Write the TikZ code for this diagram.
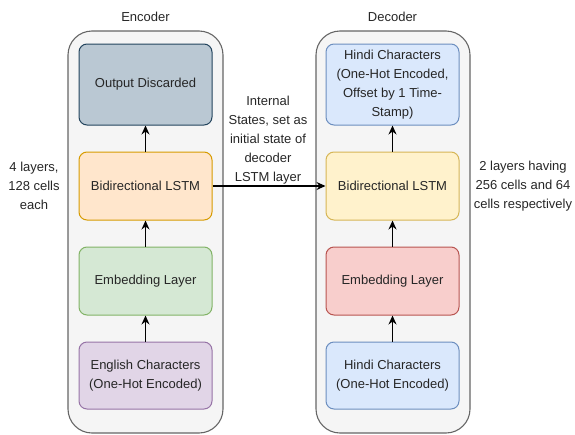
\documentclass[tikz,border=0pt]{standalone}
\usepackage{fontspec}
\setmainfont{Liberation Sans}
\usetikzlibrary{arrows.meta}

\definecolor{boxgray}{HTML}{F5F5F5}
\definecolor{linegray}{HTML}{666666}
\definecolor{outfill}{HTML}{BAC8D3}
\definecolor{outline}{HTML}{23445D}
\definecolor{orfill}{HTML}{FFE6CC}
\definecolor{orline}{HTML}{D79B00}
\definecolor{grfill}{HTML}{D5E8D4}
\definecolor{grline}{HTML}{82B366}
\definecolor{pufill}{HTML}{E1D5E7}
\definecolor{puline}{HTML}{9673A6}
\definecolor{blfill}{HTML}{DAE8FC}
\definecolor{blline}{HTML}{6C8EBF}
\definecolor{yefill}{HTML}{FFF2CC}
\definecolor{yeline}{HTML}{D6B656}
\definecolor{refill}{HTML}{F8CECC}
\definecolor{reline}{HTML}{B85450}

\tikzset{
	layer/.style={draw, line width=1, rounded corners=8, minimum width=133, align=center,
		inner sep=0pt, text=black!85},
	stack/.style={draw=linegray, fill=boxgray, line width=1.1, rounded corners=24},
	note/.style={align=center, inner sep=0pt, text=black!85},
	flow/.style={-{Stealth[length=9pt,width=8pt,inset=3pt]}, line width=1.3}
}

\begin{document}
\begin{tikzpicture}[x=1pt,y=-1pt,font=\fontsize{13}{19}\selectfont]
	\useasboundingbox (0,0) rectangle (575,434);

	% containers
	\draw[stack] (68,31) rectangle (223,433);
	\draw[stack] (316,31) rectangle (470,433);
	\node[note] (enclabel) at (145.5,17) {Encoder};
	\node[note] (declabel) at (392.5,17) {Decoder};

	% encoder
	\node[layer, fill=outfill, draw=outline, minimum height=81] (encout) at (145.5,84.5) {Output Discarded};
	\node[layer, fill=orfill, draw=orline, minimum height=68] (enclstm) at (145.5,186) {Bidirectional LSTM};
	\node[layer, fill=grfill, draw=grline, minimum height=68] (encemb) at (145.5,281) {Embedding Layer};
	\node[layer, fill=pufill, draw=puline, minimum height=67] (encin) at (145.5,375.5) {English Characters\\(One-Hot Encoded)};

	% decoder
	\node[layer, fill=blfill, draw=blline, minimum height=81] (decout) at (392.5,84.5) {Hindi Characters\\(One-Hot Encoded,\\Offset by 1 Time-\\Stamp)};
	\node[layer, fill=yefill, draw=yeline, minimum height=68] (declstm) at (392.5,186) {Bidirectional LSTM};
	\node[layer, fill=refill, draw=reline, minimum height=68] (decemb) at (392.5,281) {Embedding Layer};
	\node[layer, fill=blfill, draw=blline, minimum height=67] (decin) at (392.5,375.5) {Hindi Characters\\(One-Hot Encoded)};

	% notes
	\node[note] (encnote) at (34,186) {4 layers,\\128 cells\\each};
	\node[note] (decnote) at (523,186) {2 layers having\\256 cells and 64\\cells respectively};
	\node[note] (statenote) at (268,140) {Internal\\States, set as\\initial state of\\decoder\\LSTM layer};

	% arrows
	\draw[flow] (encin) -- (encemb);
	\draw[flow] (encemb) -- (enclstm);
	\draw[flow] (enclstm) -- (encout);
	\draw[flow] (decin) -- (decemb);
	\draw[flow] (decemb) -- (declstm);
	\draw[flow] (declstm) -- (decout);
	\draw[flow] (enclstm) -- (declstm);
\end{tikzpicture}
\end{document}
